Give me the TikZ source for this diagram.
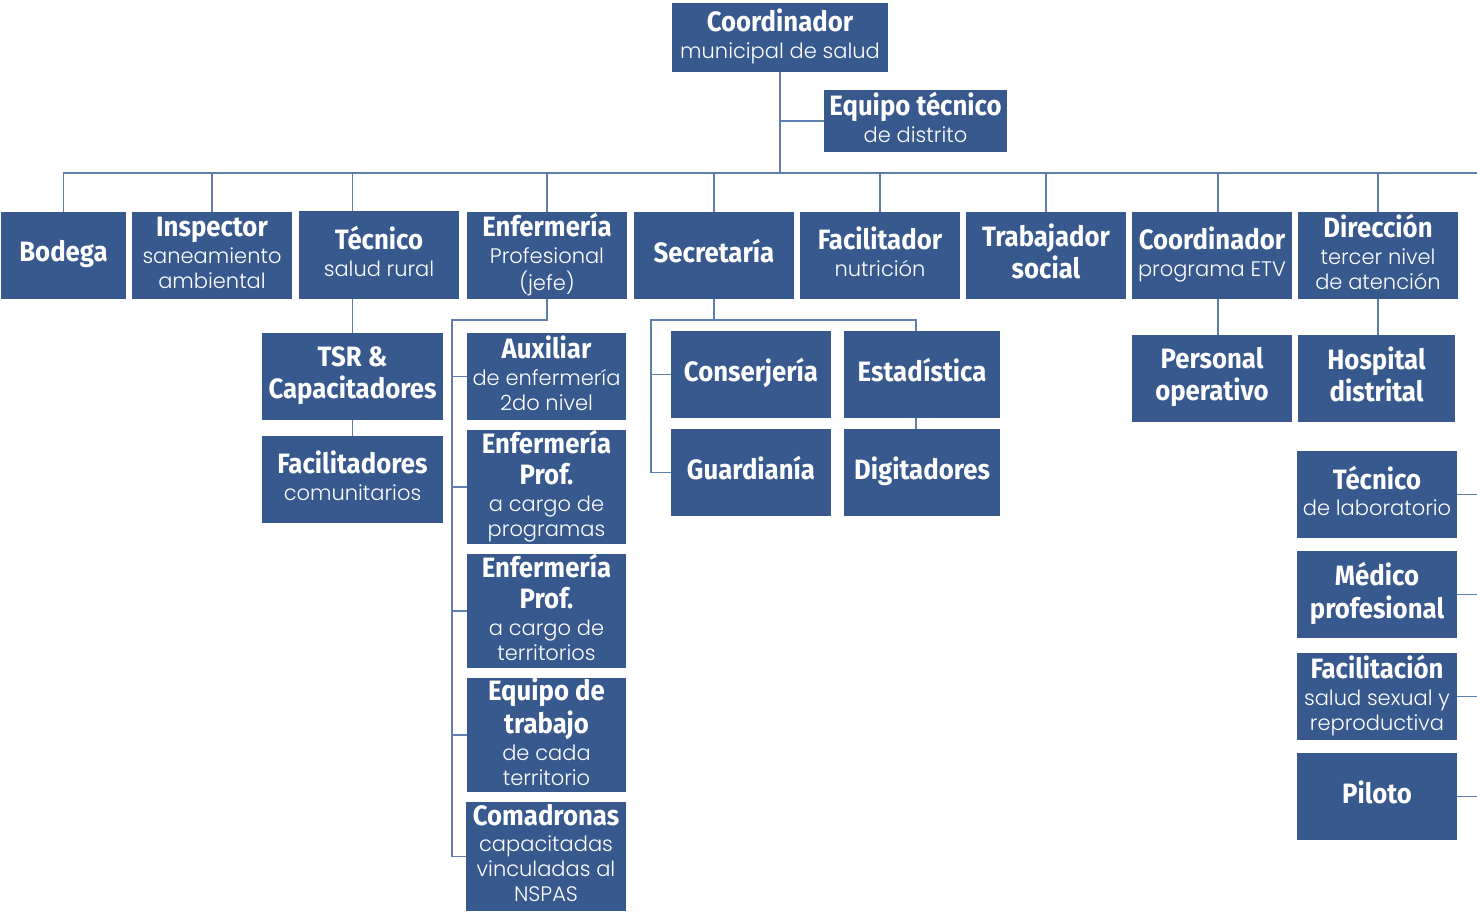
\documentclass[tikz,border=0pt]{standalone}
\usepackage{fontspec}
\usetikzlibrary{backgrounds}
\newfontfamily\ttlfnt{Fira Sans}[FakeStretch=0.92]
\newfontfamily\subfnt{Poppins Light}
\definecolor{boxblue}{HTML}{37598E}
\definecolor{lineblue}{HTML}{5E7EAD}
\newcommand\Tt[1]{{\ttlfnt\bfseries\fontsize{28}{30}\selectfont\strut #1}}
\newcommand\Ss[1]{{\subfnt\fontsize{21}{24}\selectfont\strut #1}}
\newcommand\bx[6]{\node[box, minimum width={(#4-#2)*1pt}, minimum height={(#5-#3)*1pt}] (#1) at ({(#2+#4)/2},{(#3+#5)/2}) {#6};}
\tikzset{
  box/.style={fill=boxblue, text=white, align=center, inner sep=0pt, draw=none},
  conn/.style={draw=lineblue, line width=1.8pt}
}
\begin{document}
\begin{tikzpicture}[x=1pt,y=-1pt]
\useasboundingbox (0,0) rectangle (1477,915);
% top
\bx{coord}{672}{3}{888}{72}{\Tt{Coordinador}\\\Ss{municipal de salud}}
\bx{equipo}{824}{90}{1007}{152}{\raisebox{-3pt}{\Tt{Equipo técnico}}\\\Ss{de distrito}}
% row 1
\bx{bodega}{1}{212}{126}{299}{\raisebox{2pt}{\Tt{Bodega}}}
\bx{insp}{132}{212}{292}{299}{\Tt{Inspector}\\\Ss{saneamiento}\\\Ss{ambiental}}
\bx{tec}{299}{211}{459}{299}{\Tt{Técnico}\\\Ss{salud rural}}
\bx{enf}{467}{212}{627}{299}{\Tt{Enfermería}\\\Ss{Profesional}\\\Ss{(jefe)}}
\bx{sec}{634}{212}{794}{299}{\raisebox{2pt}{\Tt{Secretaría}}}
\bx{facn}{800}{212}{960}{299}{\Tt{Facilitador}\\\Ss{nutrición}}
\bx{trab}{966}{212}{1126}{299}{\Tt{Trabajador}\\\Tt{social}}
\bx{etv}{1132}{212}{1292}{299}{\Tt{Coordinador}\\\Ss{programa ETV}}
\bx{dir}{1298}{212}{1458}{299}{\Tt{Dirección}\\\Ss{tercer nivel}\\\Ss{de atención}}
% Técnico branch
\bx{tsr}{262}{333}{443}{420}{\Tt{TSR \&}\\\Tt{Capacitadores}}
\bx{faci}{262}{436}{443}{523}{\Tt{Facilitadores}\\\Ss{comunitarios}}
% Enfermería branch
\bx{aux}{467}{333}{626}{420}{\Tt{Auxiliar}\\\Ss{de enfermería}\\\Ss{2do nivel}}
\bx{enfp}{467}{430}{626}{544}{\Tt{Enfermería}\\\Tt{Prof.}\\\Ss{a cargo de}\\\Ss{programas}}
\bx{enft}{467}{554}{626}{668}{\Tt{Enfermería}\\\Tt{Prof.}\\\Ss{a cargo de}\\\Ss{territorios}}
\bx{eqt}{467}{678}{626}{792}{\Tt{Equipo de}\\\Tt{trabajo}\\\Ss{de cada}\\\Ss{territorio}}
\bx{coma}{466}{802}{626}{911}{\Tt{Comadronas}\\\Ss{capacitadas}\\\Ss{vinculadas al}\\\Ss{NSPAS}}
% Secretaría branch
\bx{cons}{671}{331}{831}{418}{\Tt{Conserjería}}
\bx{est}{844}{331}{1000}{418}{\Tt{Estadística}}
\bx{guard}{671}{429}{831}{516}{\Tt{Guardianía}}
\bx{dig}{844}{429}{1000}{516}{\Tt{Digitadores}}
% ETV / Dirección branches
\bx{pers}{1132}{335}{1292}{422}{\Tt{Personal}\\\Tt{operativo}}
\bx{hosp}{1298}{335}{1455}{422}{\Tt{Hospital}\\\Tt{distrital}}
% right column
\bx{lab}{1297}{451}{1457}{538}{\raisebox{4pt}{\Tt{Técnico}}\\\raisebox{4pt}{\Ss{de laboratorio}}}
\bx{med}{1297}{551}{1457}{638}{\Tt{Médico}\\\Tt{profesional}}
\bx{facs}{1297}{653}{1457}{740}{\Tt{Facilitación}\\\Ss{salud sexual y}\\\Ss{reproductiva}}
\bx{pil}{1297}{753}{1457}{840}{\Tt{Piloto}}
% coordinates
\coordinate (busL) at (63,173);
\coordinate (busR) at (1477,173);
\coordinate (ebus) at (452,320);
\coordinate (sbus) at (651,320);
\coordinate (redge) at (1477,0);
\begin{scope}[on background layer]
\draw[conn] (busL) -- (busR);
\draw[conn] (coord.south) -- (coord.south |- busR);
\draw[conn] (coord.south |- equipo.west) -- (equipo.west);
\draw[conn] (bodega.north |- busR) -- (bodega.north);
\draw[conn] (insp.north |- busR) -- (insp.north);
\draw[conn] (tsr.north |- busR) -- (tsr.north);
\draw[conn] (enf.north |- busR) -- (enf.north);
\draw[conn] (sec.north |- busR) -- (sec.north);
\draw[conn] (facn.north |- busR) -- (facn.north);
\draw[conn] (trab.north |- busR) -- (trab.north);
\draw[conn] ([xshift=6pt]etv.north |- busR) -- ([xshift=6pt]pers.north);
\draw[conn] (dir.north |- busR) -- (dir.north);
\draw[conn] (tsr.south) -- (faci.north);
\draw[conn] (enf.south) |- (ebus) -- (ebus |- coma.west) -- (coma.west);
\draw[conn] (ebus |- aux.west) -- (aux.west);
\draw[conn] (ebus |- enfp.west) -- (enfp.west);
\draw[conn] (ebus |- enft.west) -- (enft.west);
\draw[conn] (ebus |- eqt.west) -- (eqt.west);
\draw[conn] (sec.south) |- (sbus) -- (sbus |- guard.west) -- (guard.west);
\draw[conn] (sbus |- cons.west) -- (cons.west);
\draw[conn] (sec.south |- sbus) -| ([xshift=-6pt]est.north);
\draw[conn] ([xshift=-6pt]est.south) -- ([xshift=-6pt]dig.north);
\draw[conn] (dir.south) -- (dir.south |- hosp.north);
\draw[conn] (lab.east) -- (lab.east -| redge);
\draw[conn] (med.east) -- (med.east -| redge);
\draw[conn] (facs.east) -- (facs.east -| redge);
\draw[conn] (pil.east) -- (pil.east -| redge);
\end{scope}
\end{tikzpicture}
\end{document}
